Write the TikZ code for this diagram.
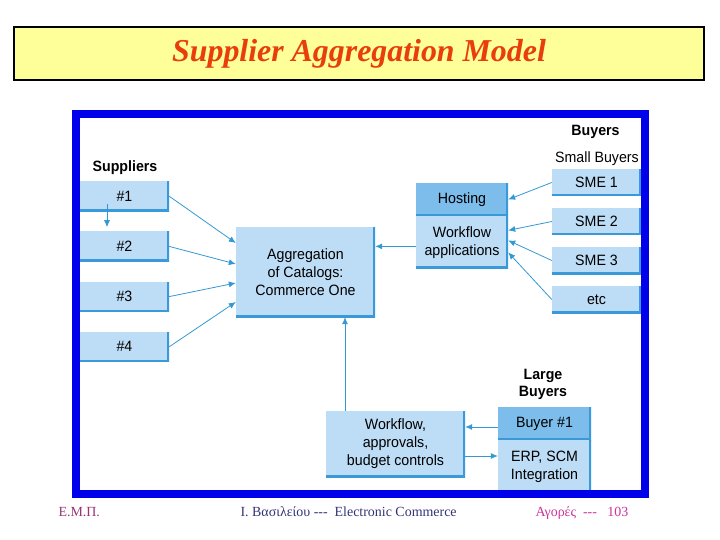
\documentclass[tikz,border=0pt]{standalone}
\usepackage{fontspec}
\setmainfont{Liberation Serif}
\newfontfamily\diagfont[FakeStretch=0.95]{Liberation Sans}
\usetikzlibrary{
	arrows.meta,
	positioning
}
\definecolor{TitleFill}{RGB}{255,255,153}
\definecolor{TitleRed}{RGB}{232,62,12}
\definecolor{FrameBlue}{RGB}{0,0,235}
\definecolor{BoxFill}{RGB}{189,220,245}
\definecolor{BoxDark}{RGB}{125,189,235}
\definecolor{EdgeBlue}{RGB}{58,154,217}
\definecolor{ArrowBlue}{RGB}{51,153,210}
\definecolor{FootPurple}{RGB}{153,51,119}
\definecolor{FootNavy}{RGB}{51,51,119}
\definecolor{FootPink}{RGB}{204,51,153}
\tikzset{
	Box/.style={rectangle,fill=BoxFill,inner sep=0pt,align=center,
		font=\diagfont\fontsize{15}{18}\selectfont,
		path picture={\draw[EdgeBlue,line width=4bp]
			(path picture bounding box.north east) -- (path picture bounding box.south east)
			-- (path picture bounding box.south west);}},
	DarkBox/.style={Box,fill=BoxDark},
	Arrow/.style={-{Latex[length=7bp,width=6bp]},ArrowBlue,line width=0.8bp},
	Caption/.style={font=\diagfont\fontsize{15}{17}\selectfont,align=center},
	BoldCaption/.style={Caption,font=\diagfont\bfseries\fontsize{15}{17}\selectfont},
	Foot/.style={anchor=base west,font=\fontsize{14}{16}\selectfont}
}

\begin{document}
\begin{tikzpicture}[x=1bp,y=-1bp]
	\useasboundingbox (0,0) rectangle (720,540);
	% title
	\node[draw=black,line width=1.2bp,fill=TitleFill,minimum width=690bp,minimum height=53bp,
		font=\fontsize{32}{36}\selectfont\bfseries\itshape,text=TitleRed] (title) at (359,53.5)
		{Supplier Aggregation Model};
	% suppliers
	\node[BoldCaption,anchor=base] (sup) at (125,172) {Suppliers};
	\foreach \i in {1,...,4}
		\node[Box,minimum width=89bp,minimum height=30bp] (s\i) at (124.5,146+50.2*\i) {\#\i};
	\node[Box,minimum width=139bp,minimum height=90bp] (agg) at (305.5,272)
		{Aggregation\\of Catalogs:\\Commerce One};
	% hosting
	\node[DarkBox,minimum width=92bp,minimum height=33bp] (host) at (462,199.5) {Hosting};
	\node[Box,minimum width=92bp,minimum height=52bp,below=0pt of host] (wf) {Workflow\\applications};
	% small buyers
	\node[BoldCaption,anchor=base] (buy) at (595.5,136) {Buyers};
	\node[Caption,anchor=base] (small) at (597,163) {Small Buyers};
	\foreach \i/\t in {1/SME 1,2/SME 2,3/SME 3,4/etc}
		\node[Box,minimum width=89bp,minimum height=27bp] (sme\i) at (596.5,143.5+39*\i) {\t};
	% large buyers
	\node[BoldCaption] (large) at (543,384) {Large\\Buyers};
	\node[Box,minimum width=139bp,minimum height=66bp] (wab) at (395.5,444)
		{Workflow,\\approvals,\\budget controls};
	\node[DarkBox,minimum width=93bp,minimum height=33bp] (b1) at (544.5,423.5) {Buyer \#1};
	\node[Box,minimum width=93bp,minimum height=52bp,below=0pt of b1] (erp) {ERP, SCM\\Integration};
	% arrows
	\draw[Arrow] ([xshift=-17.5bp,yshift=7bp]s1.south) -- ([xshift=-17.5bp,yshift=4bp]s2.north);
	\foreach \i/\dy in {1/29,2/8,3/-11,4/-30}
		\draw[Arrow] (s\i.east) -- ([yshift=\dy bp]agg.west);
	\draw[Arrow] ([yshift=-4bp]wf.west) -- ([yshift=-4bp]wf.west -| agg.east);
	\draw[Arrow] (sme1.west) -- (host.east);
	\draw[Arrow] (sme2.west) -- ([yshift=12bp]wf.east);
	\draw[Arrow] (sme3.west) -- ([yshift=2bp]wf.east);
	\draw[Arrow] (sme4.west) -- ([yshift=-10bp]wf.east);
	\draw[Arrow] ([xshift=-50.5bp]wab.north) -- ([xshift=-50.5bp]wab.north |- agg.south);
	\draw[Arrow] ([yshift=-3.5bp]b1.west) -- ([yshift=-3.5bp]b1.west -| wab.east);
	\draw[Arrow] ([yshift=-12bp]wab.east) -- ([yshift=-12bp]wab.east -| erp.west);
	% frame
	\draw[FrameBlue,line width=8bp] (76,114) rectangle (645,494);
	% footer
	\node[Foot,text=FootPurple] (emp) at (55,516) {Ε.Μ.Π.};
	\node[Foot,text=FootNavy] (author) at (237,516) {Ι. Βασιλείου -{}-{}-~~Electronic Commerce};
	\node[Foot,text=FootPink] (page) at (532,516) {Αγορές~~-{}-{}-~~~103};
\end{tikzpicture}
\end{document}
